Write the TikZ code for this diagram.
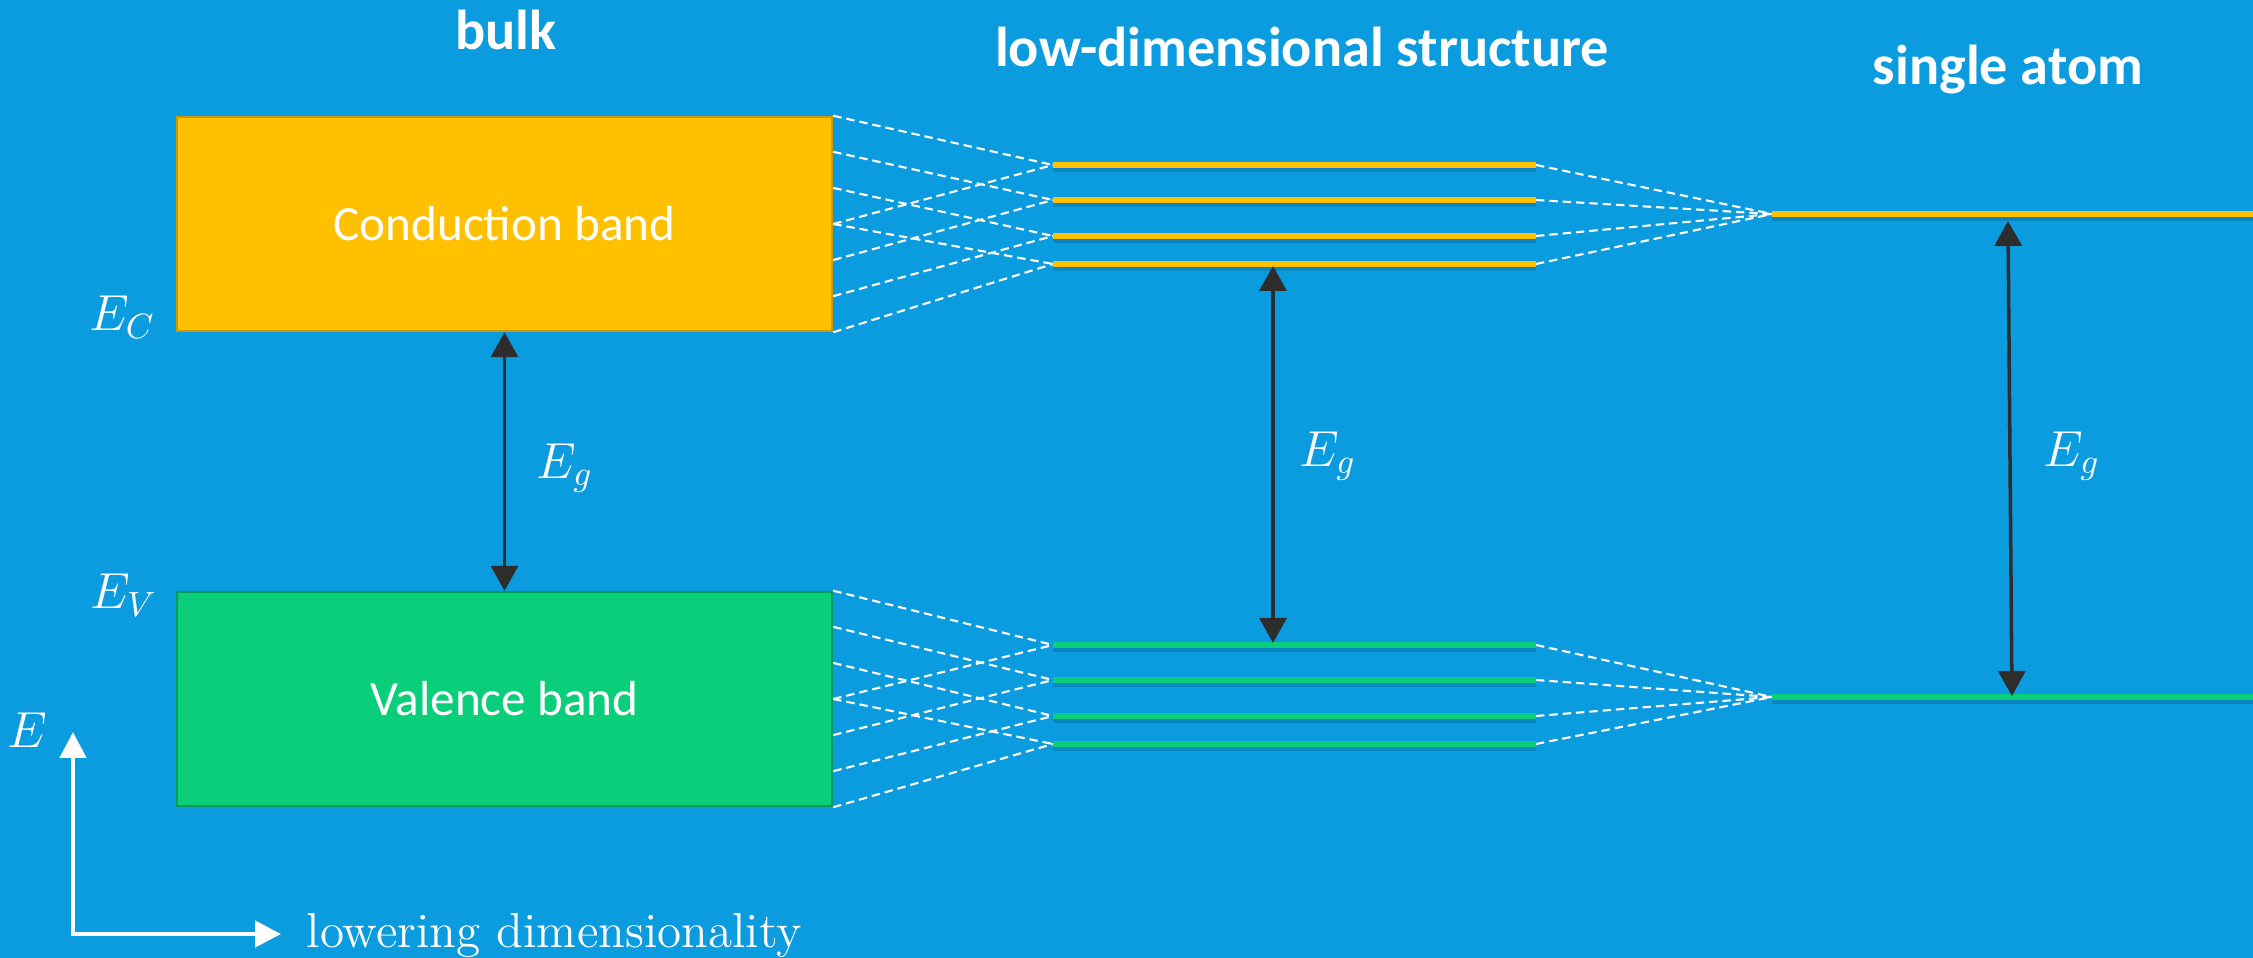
\documentclass[tikz,border=0pt]{standalone}
\usepackage{fontspec}
\usepackage{amsmath}
\usepackage{xcolor}
\usepackage{tikz}
\usetikzlibrary{arrows.meta,calc,positioning}
\newfontfamily\headfont{Carlito}
\definecolor{bgblue}{RGB}{11,155,223}
\definecolor{condyellow}{RGB}{255,192,0}
\definecolor{valgreen}{RGB}{10,206,122}
\definecolor{gaparrow}{RGB}{45,45,45}

\begin{document}
\begin{tikzpicture}[
    band/.style={draw,line width=0.7pt,minimum width=6.55cm,minimum height=2.14cm,inner sep=0pt,text=white,font=\headfont\fontsize{14}{17}\selectfont},
    level/.style={line width=1.7pt},
    levelshadow/.style={line width=2.2pt,black,opacity=0.13},
    fan/.style={white,dash pattern=on 2.4pt off 1.4pt,line width=0.6pt},
    gap/.style={gaparrow,line width=1pt,{Triangle[length=2.5mm,width=2.7mm]}-{Triangle[length=2.5mm,width=2.7mm]}},
    axis/.style={white,line width=1.3pt,{Triangle[length=2.6mm,width=2.6mm]}-{Triangle[length=2.6mm,width=2.6mm]}},
    head/.style={text=white,font=\headfont\bfseries\fontsize{16}{19}\selectfont,anchor=base,inner sep=0pt},
    sym/.style={text=white,font=\Large,inner sep=0pt}
  ]
  \useasboundingbox (0,0) rectangle (22.53,9.58);
  \fill[bgblue] (0,0) rectangle (22.53,9.58);

  % column titles
  \node[head] (bulk) at (5.06,9.08) {bulk};
  \node[head] (lowdim) at (13.02,8.91) {low-dimensional structure};
  \node[head] (atom) at (20.08,8.73) {single atom};

  % bulk bands
  \node[band,fill=condyellow,draw=condyellow!80!black] (cb) at (5.045,7.34) {Conduction band};
  \node[band,fill=valgreen,draw=valgreen!75!black] (vb) at (5.045,2.59) {Valence band};
  \node[sym,anchor=base east] (ec) at (1.56,6.27) {$E_C$};
  \node[sym,anchor=base east] (ev) at (1.58,3.49) {$E_V$};
  \foreach \k in {0,...,6} {
    \coordinate (ce\k) at ($(cb.north east)!\k/6!(cb.south east)$);
    \coordinate (ve\k) at ($(vb.north east)!\k/6!(vb.south east)$);
  }

  % discrete levels
  \foreach \i/\yc/\yv in {1/7.93/3.13,2/7.58/2.78,3/7.22/2.42,4/6.94/2.14} {
    \coordinate (c\i l) at (10.53,\yc);
    \coordinate (c\i r) at (15.36,\yc);
    \coordinate (v\i l) at (10.53,\yv);
    \coordinate (v\i r) at (15.36,\yv);
  }
  \coordinate (catom) at (17.72,7.44);
  \coordinate (cend) at (22.53,7.44);
  \coordinate (vatom) at (17.72,2.61);
  \coordinate (vend) at (22.53,2.61);

  % dashed fans
  \foreach \i/\a/\b in {1/0/3,2/1/4,3/2/5,4/3/6} {
    \draw[fan] (ce\a) -- (c\i l);
    \draw[fan] (ce\b) -- (c\i l);
    \draw[fan] (c\i r) -- (catom);
    \draw[fan] (ve\a) -- (v\i l);
    \draw[fan] (ve\b) -- (v\i l);
    \draw[fan] (v\i r) -- (vatom);
  }

  \foreach \i in {1,...,4} {
    \draw[levelshadow] ([yshift=-0.3mm]c\i l) -- ([yshift=-0.3mm]c\i r);
    \draw[level,condyellow] (c\i l) -- (c\i r);
    \draw[levelshadow] ([yshift=-0.3mm]v\i l) -- ([yshift=-0.3mm]v\i r);
    \draw[level,valgreen] (v\i l) -- (v\i r);
  }
  \draw[levelshadow] ([yshift=-0.3mm]catom) -- ([yshift=-0.3mm]cend);
  \draw[level,condyellow] (catom) -- (cend);
  \draw[levelshadow] ([yshift=-0.3mm]vatom) -- ([yshift=-0.3mm]vend);
  \draw[level,valgreen] (vatom) -- (vend);

  % band gaps
  \coordinate (mgtop) at (12.73,6.92);
  \coordinate (mgbot) at (12.73,3.15);
  \coordinate (agtop) at (20.08,7.37);
  \coordinate (agbot) at (20.12,2.62);
  \draw[gap] (cb.south) -- (vb.north);
  \draw[gap] (mgtop) -- (mgbot);
  \draw[gap] (agtop) -- (agbot);
  \node[sym] (eg1) at (5.65,4.90) {$E_g$};
  \node[sym] (eg2) at (13.28,5.02) {$E_g$};
  \node[sym] (eg3) at (20.72,5.02) {$E_g$};

  % axes
  \coordinate (etip) at (0.73,2.26);
  \coordinate (dtip) at (2.81,0.24);
  \draw[axis] (etip) |- (dtip);
  \node[sym] (elabel) at (0.27,2.28) {$E$};
  \node[anchor=base west,inner sep=0pt,text=white,font=\fontsize{14}{16}\selectfont] (dimlabel) at (3.06,0.10) {lowering dimensionality};
\end{tikzpicture}
\end{document}
